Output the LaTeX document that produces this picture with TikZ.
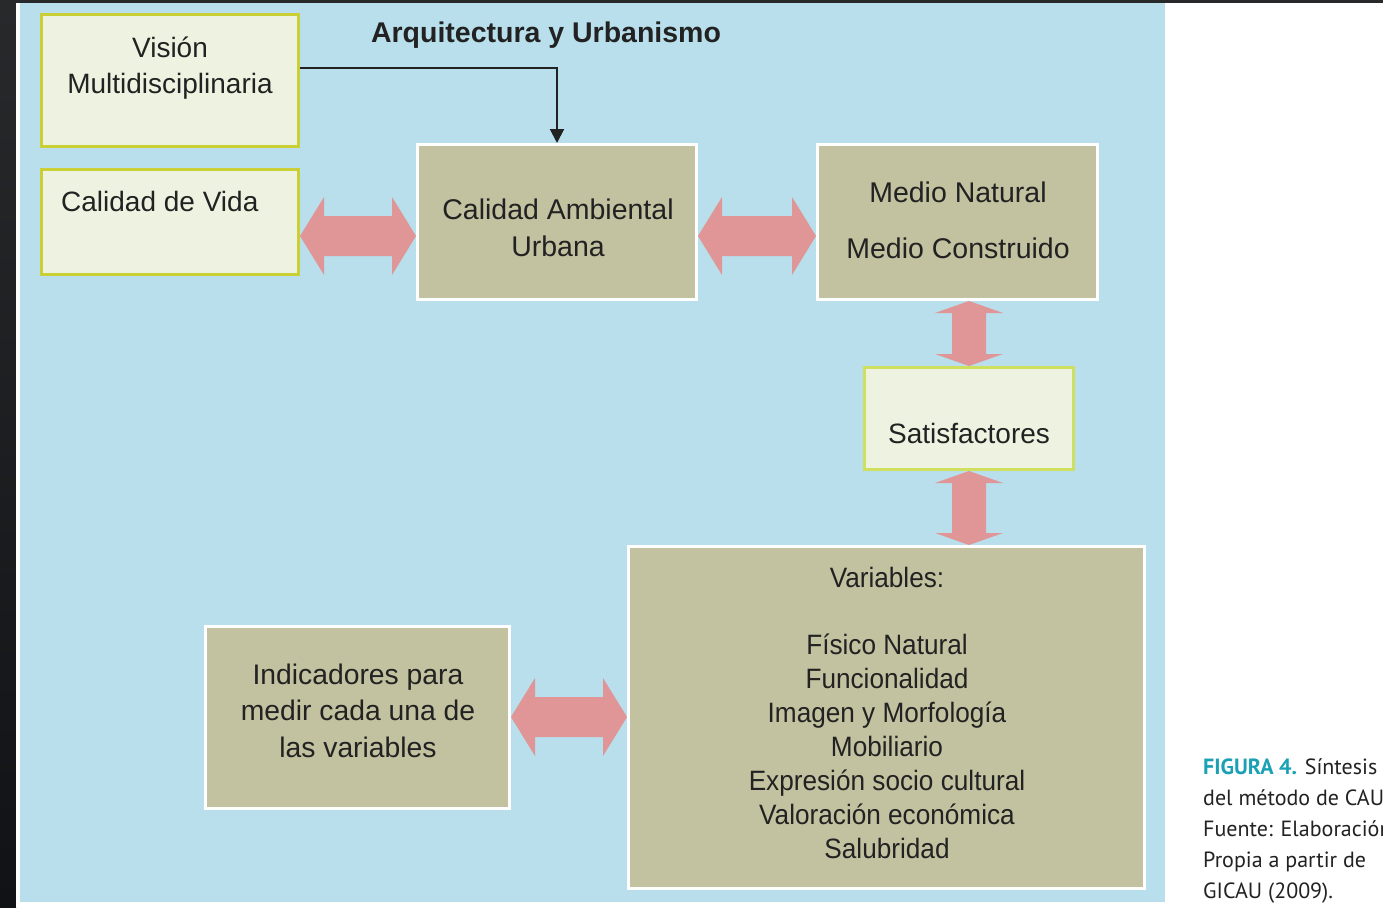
\documentclass[tikz,border=0pt]{standalone}
\usepackage{fontspec}
\setmainfont{Liberation Sans}
\newfontfamily\narrowsans[FakeStretch=0.935]{Liberation Sans}
\newfontfamily\capfont{PT Sans}
\usetikzlibrary{arrows.meta,calc}
\definecolor{panelblue}{HTML}{B8DFEB}
\definecolor{khaki}{HTML}{C2C1A0}
\definecolor{cream}{HTML}{EEF2E0}
\definecolor{olivey}{HTML}{C9CF35}
\definecolor{limey}{HTML}{CFE05E}
\definecolor{pinkarrow}{HTML}{E09696}
\definecolor{ink}{HTML}{222222}
\definecolor{tealcap}{HTML}{1BA1B5}
\definecolor{darkbg}{HTML}{27292B}
\definecolor{darkbot}{HTML}{101215}
\tikzset{
  boxk/.style={draw=white, line width=3pt, fill=khaki, inner sep=0pt},
  boxc/.style={draw=olivey, line width=3pt, fill=cream, inner sep=0pt},
  lbl/.style={inner sep=0pt, anchor=base, align=center, text=ink, font=\fontsize{28}{37}\selectfont},
  fatarrow/.style={fill=pinkarrow},
  conn/.style={draw=ink, line width=2pt, -{Triangle[width=14pt,length=14pt]}},
  captxt/.style={inner sep=0pt, anchor=base west, align=left, text=ink, font=\capfont\fontsize{22}{31}\selectfont},
}
% horizontal fat double arrow between two nodes, at height #3 (px)
\newcommand\hfat[3]{%
  \fill[fatarrow] let \p1=(#1.east), \p2=(#2.west) in
    (\x1,-#3pt) -- (\x1+24pt,-#3pt+39pt) -- (\x1+24pt,-#3pt+20pt) --
    (\x2-24pt,-#3pt+20pt) -- (\x2-24pt,-#3pt+39pt) -- (\x2,-#3pt) --
    (\x2-24pt,-#3pt-39pt) -- (\x2-24pt,-#3pt-20pt) --
    (\x1+24pt,-#3pt-20pt) -- (\x1+24pt,-#3pt-39pt) -- cycle;}
% vertical fat double arrow between two nodes, at x #3 (px)
\newcommand\vfat[3]{%
  \fill[fatarrow] let \p1=(#1.south), \p2=(#2.north) in
    (#3pt,\y1) -- (#3pt+34pt,\y1-12pt) -- (#3pt+17pt,\y1-12pt) --
    (#3pt+17pt,\y2+12pt) -- (#3pt+34pt,\y2+12pt) -- (#3pt,\y2) --
    (#3pt-34pt,\y2+12pt) -- (#3pt-17pt,\y2+12pt) --
    (#3pt-17pt,\y1-12pt) -- (#3pt-34pt,\y1-12pt) -- cycle;}
\begin{document}
\begin{tikzpicture}[x=1pt,y=-1pt]
\useasboundingbox (0,0) rectangle (1383,907);
% background
\fill[darkbg] (0,0) rectangle (1383,907);
\shade[top color=darkbg, bottom color=darkbot] (0,3) rectangle (16,907);
\fill[white] (16,3) rectangle (1383,907);
\fill[panelblue] (20,3) rectangle (1165,902);

% boxes
\node[boxc, minimum width=257pt, minimum height=132pt] (vision) at (170,80.5) {};
\node[boxc, minimum width=257pt, minimum height=105pt] (cdv) at (170,222) {};
\node[boxk, minimum width=279pt, minimum height=155pt] (cau) at (557,222) {};
\node[boxk, minimum width=280pt, minimum height=155pt] (medio) at (957.5,222) {};
\node[boxc, draw=limey, minimum width=209pt, minimum height=102pt] (satis) at (969,418.5) {};
\node[boxk, minimum width=516pt, minimum height=342pt] (vars) at (886.5,717.5) {};
\node[boxk, minimum width=304pt, minimum height=182pt] (ind) at (357.5,717.5) {};

% texts (base anchor = baseline of the last line)
\node[lbl, font=\bfseries\fontsize{28.5}{37}\selectfont] (title) at (546,43) {Arquitectura y Urbanismo};
\node[lbl, font=\fontsize{28}{36}\selectfont] (vistext) at (170,93) {Visión\\Multidisciplinaria};
\node[lbl, anchor=base west] (cdvtext) at (61,211) {Calidad de Vida};
\node[lbl, font=\fontsize{28.5}{37.5}\selectfont] (cautext) at (558,256.5) {Calidad Ambiental\\Urbana};
\node[lbl, font=\fontsize{28.5}{56}\selectfont] (mediotext) at (958,258) {Medio Natural\\Medio Construido};
\node[lbl] (satistext) at (969,443) {Satisfactores};
\node[lbl, font=\narrowsans\fontsize{28}{34}\selectfont] (varstext) at (887,858)
  {Variables:\\[33pt]Físico Natural\\Funcionalidad\\Imagen y Morfología\\Mobiliario\\Expresión socio cultural\\Valoración económica\\Salubridad};
\node[lbl, font=\fontsize{28.3}{36.5}\selectfont] (indtext) at (358,757) {Indicadores para\\medir cada una de\\las variables};

% caption
\node[captxt] (caption) at (1203,898)
  {{\color{tealcap}\bfseries FIGURA 4.} Síntesis\\del método de CAU\\Fuente: Elaboración\\Propia a partir de\\GICAU (2009).};

% connectors
\draw[conn] ([yshift=13pt]vision.east) -| (cau.north);
\hfat{cdv}{cau}{236}
\hfat{cau}{medio}{236}
\hfat{ind}{vars}{717}
\vfat{medio}{satis}{969}
\vfat{satis}{vars}{969}
\end{tikzpicture}
\end{document}
